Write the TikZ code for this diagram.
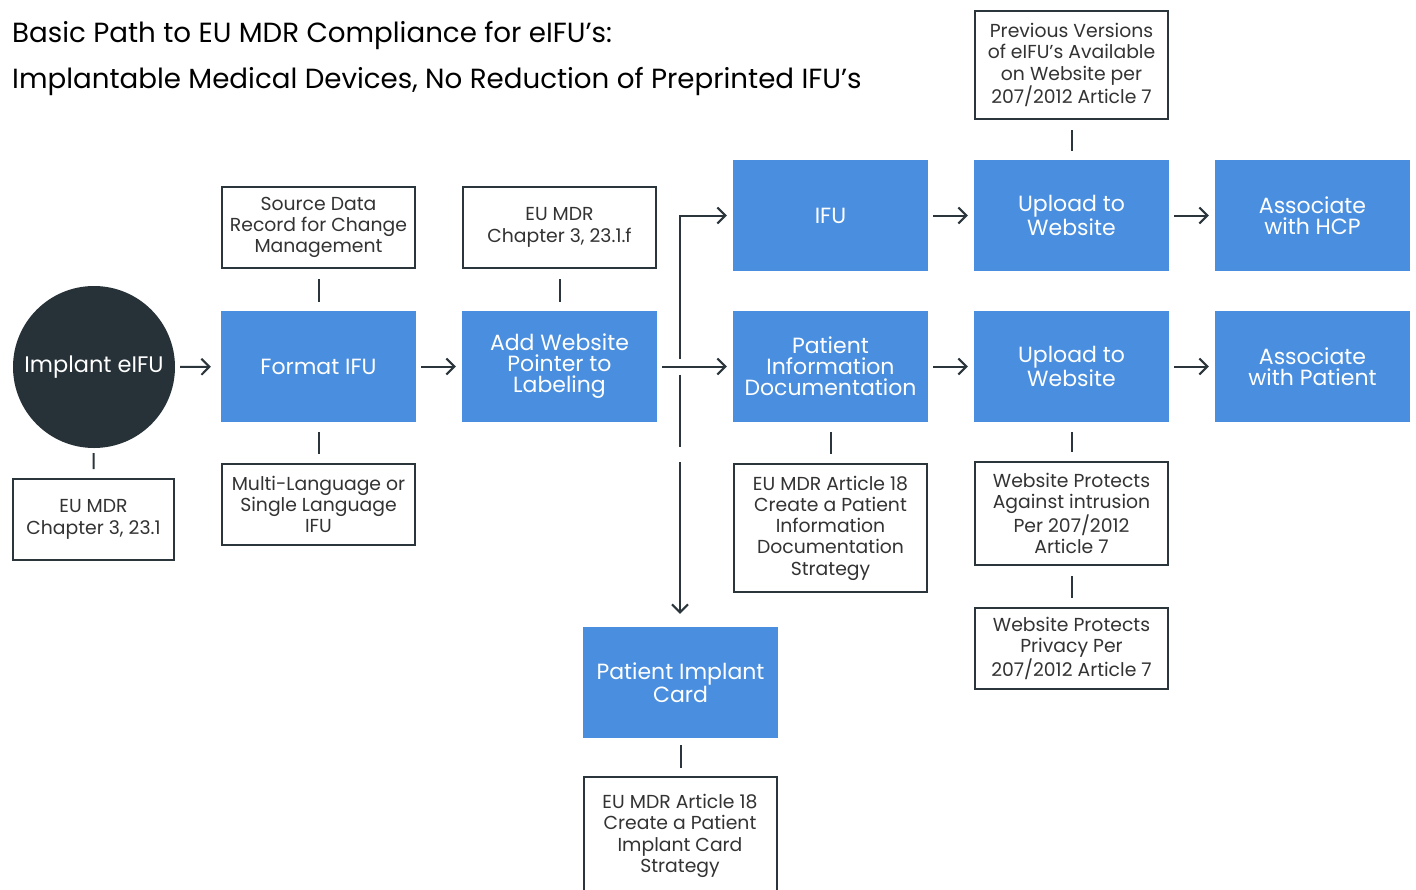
\documentclass[tikz,border=0pt]{standalone}
\usepackage{fontspec}
\setmainfont{Poppins}
\usetikzlibrary{arrows.meta}
\definecolor{bl}{HTML}{4A8FDF}
\definecolor{dk}{HTML}{263238}
\definecolor{ln}{HTML}{2B353C}
\definecolor{tx}{HTML}{333333}
\begin{document}
\begin{tikzpicture}[x=1pt,y=-1pt,
  bluebox/.style={fill=bl, text=white, minimum width=195, minimum height=111, inner sep=0, align=center, font=\fontsize{22}{21}\selectfont},
  wbox/.style={draw=ln, line width=2, fill=white, text=tx, inner sep=0, align=center, minimum width=193, font=\fontsize{18.8}{21.3}\selectfont},
  conn/.style={draw=ln, line width=2},
  arr/.style={conn, -{Straight Barb[length=8,width=16,line width=2]}},
  tick/.style={conn, shorten <=10, shorten >=9}
]
\useasboundingbox (0,0) rectangle (1416,889);
\node[anchor=base west, font=\fontsize{27.7}{30}\selectfont, text=black, inner sep=0] (t1) at (12,42) {Basic Path to EU MDR Compliance for eIFU’s:};
\node[anchor=base west, font=\fontsize{27.7}{30}\selectfont, text=black, inner sep=0] (t2) at (12,88) {Implantable Medical Devices, No Reduction of Preprinted IFU’s};

\node[circle, fill=dk, text=white, minimum size=162, inner sep=0, font=\fontsize{22.5}{21}\selectfont] (circ) at (94,367) {Implant eIFU};
\node[bluebox] (fmt) at (318.5,366.5) {Format IFU};
\node[bluebox] (add) at (559.5,366.5) {Add Website\\Pointer to\\Labeling};
\node[bluebox] (ifu) at (830.5,215.5) {IFU};
\node[bluebox] (pi) at (830.5,366.5) {Patient\\Information\\Documentation};
\node[bluebox] (up1) at (1071.5,215.5) {Upload to\\Website};
\node[bluebox] (up2) at (1071.5,366.5) {Upload to\\Website};
\node[bluebox] (as1) at (1312.5,215.5) {Associate\\with HCP};
\node[bluebox] (as2) at (1312.5,366.5) {Associate\\with Patient};
\node[bluebox] (card) at (680.5,682.5) {Patient Implant\\Card};

\node[wbox, minimum height=81] (src) at (318.5,227.5) {Source Data\\Record for Change\\Management};
\node[wbox, minimum height=81] (ref1) at (559.5,227.5) {EU MDR\\Chapter 3, 23.1.f};
\node[wbox, minimum height=108] (prev) at (1071.5,65) {Previous Versions\\of eIFU’s Available\\on Website per\\207/2012 Article 7};
\node[wbox, minimum height=81, minimum width=161] (ref0) at (93.5,519.5) {EU MDR\\Chapter 3, 23.1};
\node[wbox, minimum height=81] (multi) at (318.5,504.5) {Multi-Language or\\Single Language\\IFU};
\node[wbox, minimum height=128] (art) at (830.5,528) {EU MDR Article 18\\Create a Patient\\Information\\Documentation\\Strategy};
\node[wbox, minimum height=103] (intr) at (1071.5,513.5) {Website Protects\\Against intrusion\\Per 207/2012\\Article 7};
\node[wbox, minimum height=81] (priv) at (1071.5,648.5) {Website Protects\\Privacy Per\\207/2012 Article 7};
\node[wbox, minimum height=118] (artb) at (680,836) {EU MDR Article 18\\Create a Patient\\Implant Card\\Strategy};

% arrows
\draw[arr, shorten <=5, shorten >=10] (circ) -- (fmt);
\draw[arr, shorten <=5, shorten >=6] (fmt) -- (add);
\draw[arr, shorten <=5, shorten >=6] (add) -- (pi);
\draw[arr, shorten <=5, shorten >=6] (ifu) -- (up1);
\draw[arr, shorten <=5, shorten >=6] (up1) -- (as1);
\draw[arr, shorten <=5, shorten >=6] (pi) -- (up2);
\draw[arr, shorten <=5, shorten >=6] (up2) -- (as2);

\coordinate (br) at (680,366.5);
\coordinate (g1) at (680,447);
\coordinate (g2) at (680,462);
\draw[arr, shorten >=6] ([yshift=8]br) |- (ifu.west);
\draw[conn] ([yshift=-8]br) -- (g1);
\draw[arr, shorten >=13] (g2) -- (g2 |- card.north);

% ticks
\draw[tick] (src) -- (fmt);
\draw[tick] (fmt) -- (multi);
\draw[tick] (ref1) -- (add);
\draw[conn, shorten <=5, shorten >=9] (circ) -- (ref0);
\draw[tick] (prev) -- (up1);
\draw[tick] (pi) -- (art);
\draw[tick] (up2) -- (intr);
\draw[tick] (intr) -- (priv);
\draw[conn, shorten <=7, shorten >=8] (card) -- (card |- artb.north);
\end{tikzpicture}
\end{document}
